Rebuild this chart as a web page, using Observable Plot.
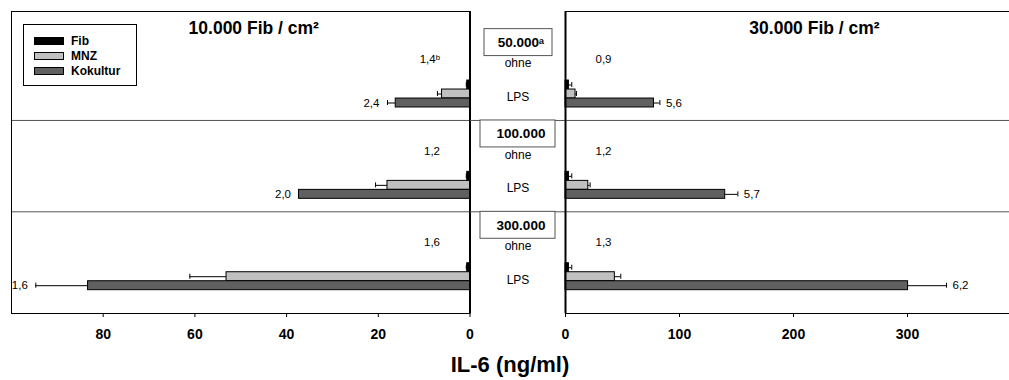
<!DOCTYPE html>
<html>
<head>
<meta charset="utf-8">
<script src="https://cdn.jsdelivr.net/npm/d3@7"></script>
<script src="https://cdn.jsdelivr.net/npm/@observablehq/plot@0.6"></script>
<style>
  body { margin: 0; background: #fff; }
  #c { position: relative; width: 1009px; height: 380px; overflow: hidden; background: #fff;
       font-family: 'Liberation Sans', Arial, Helvetica, sans-serif; }
  #c > svg { position: absolute; top: 0; }
  #legend { position: absolute; left: 23px; top: 24px; width: 112px; height: 60px; border: 1.5px solid #000; background: #fff; }
  .li { position: absolute; left: 10px; height: 14px; display: flex; align-items: center; font-weight: bold; font-size: 12px; }
  .sw { width: 28px; height: 6px; border: 1px solid #000; margin-right: 7px; }
  #xlabel { position: absolute; left: 380px; width: 260px; top: 351px; line-height: 28px; text-align: center;
            font-weight: bold; font-size: 22px; }
</style>
</head>
<body>
<div id="c"></div>
<script>
// ---------- data ----------
const groups = ["50.000", "100.000", "300.000"];          // MNZ / cm² (middle boxes)
const boxLabels = ["50.000ᵃ", "100.000", "300.000"];
const conditions = ["ohne", "LPS"];
const series = ["Fib", "MNZ", "Kokultur"];
const seriesColors = ["#000000", "#c0c0c0", "#606060"];
const panelTitles = ["10.000 Fib / cm²", "30.000 Fib / cm²"];
const xLabel = "IL-6 (ng/ml)";

// left panel: 10.000 Fib / cm²  (IL-6 ng/ml)
const left_ohne_Fib = [0, 0, 0];
const left_ohne_MNZ = [0, 0, 0];
const left_ohne_Kok = [0, 0, 0];
const left_LPS_Fib = [0.6, 0.6, 0.6];
const left_LPS_MNZ = [6.1, 18.0, 53.1];
const left_LPS_Kok = [16.2, 37.3, 83.3];
const left_err_Fib = [0.2, 0.2, 0.2];
const left_err_MNZ = [1.0, 2.6, 8.0];
const left_err_Kok = [1.8, 0, 11.4];
const left_fold_ohne = ["1,4ᵇ", "1,2", "1,6"];
const left_fold_LPS = ["2,4", "2,0", "1,6"];

// right panel: 30.000 Fib / cm²
const right_ohne_Fib = [0, 0, 0];
const right_ohne_MNZ = [0, 0, 0];
const right_ohne_Kok = [0, 0, 0];
const right_LPS_Fib = [3, 3, 3];
const right_LPS_MNZ = [8.8, 20.0, 43.3];
const right_LPS_Kok = [77.6, 140.1, 300.5];
const right_err_Fib = [2.5, 2.5, 2.5];
const right_err_MNZ = [0.8, 1.6, 5.2];
const right_err_Kok = [5.2, 11.1, 33.7];
const right_fold_ohne = ["0,9", "1,2", "1,3"];
const right_fold_LPS = ["5,6", "5,7", "6,2"];

const leftTicks = [0, 20, 40, 60, 80];
const rightTicks = [0, 100, 200, 300];

// ---------- build tables ----------
function buildRows(ohne, lps, errs) {
  const rows = [];
  groups.forEach((g, i) => {
    series.forEach((s, j) => {
      rows.push({group: g, cond: "ohne", series: s, value: ohne[j][i], err: 0});
      rows.push({group: g, cond: "LPS", series: s, value: lps[j][i], err: errs[j][i]});
    });
  });
  return rows;
}
const leftRows = buildRows([left_ohne_Fib, left_ohne_MNZ, left_ohne_Kok],
                           [left_LPS_Fib, left_LPS_MNZ, left_LPS_Kok],
                           [left_err_Fib, left_err_MNZ, left_err_Kok]);
const rightRows = buildRows([right_ohne_Fib, right_ohne_MNZ, right_ohne_Kok],
                            [right_LPS_Fib, right_LPS_MNZ, right_LPS_Kok],
                            [right_err_Fib, right_err_MNZ, right_err_Kok]);

const key = d => d.group + "|" + d.cond;
const yDomain = groups.flatMap(g => [g + "|box", ...conditions.map(c => g + "|" + c)]);
const yScale = {domain: yDomain, paddingInner: 0.115, paddingOuter: 0.5165, align: 0.2585, round: false, axis: null};
const H = 348, MT = 11, MB = 35;
const fontFamily = "'Liberation Sans', Arial, Helvetica, sans-serif";
const baseStyle = {background: "transparent", overflow: "visible", fontFamily, fontSize: "14px", fontWeight: "bold", color: "#000"};

const subInsets = {Fib: [0, 18], MNZ: [9, 9], Kokultur: [18, 0]};
const subOff = {Fib: -9, MNZ: 0, Kokultur: 9};

function panel({rows, foldOhne, foldLPS, domain, reverse, ticks, width, marginLeft, marginRight, title, titleDx, side}) {
  const sgn = side === "left" ? -1 : 1;
  const anchor = side === "left" ? "end" : "start";
  const lpsKok = rows.filter(r => r.cond === "LPS" && r.series === "Kokultur");
  const marks = [
    Plot.ruleY(groups.slice(1), {y: g => g + "|box", dy: -4, stroke: "#555", strokeWidth: 1}),
    Plot.frame({stroke: "#000", strokeWidth: 1})
  ];
  series.forEach((s, j) => {
    const sr = rows.filter(r => r.series === s);
    const er = sr.filter(r => r.err > 0);
    marks.push(Plot.barX(sr, {x: "value", y: key, fill: seriesColors[j], stroke: "#000", strokeWidth: 1,
      insetTop: subInsets[s][0], insetBottom: subInsets[s][1]}));
    marks.push(Plot.ruleY(er, {x1: "value", x2: r => r.value + r.err, y: key, dy: subOff[s], stroke: "#000", strokeWidth: 1}));
    marks.push(Plot.tickX(er, {x: r => r.value + r.err, y: key, stroke: "#000", strokeWidth: 1,
      insetTop: 10.97 + subOff[s], insetBottom: 10.98 - subOff[s]}));
  });
  marks.push(Plot.ruleX([0], {stroke: "#000", strokeWidth: 2}));
  marks.push(Plot.text(groups, {x: () => 0, y: g => g + "|ohne", text: (g, i) => foldOhne[i], dx: 30 * sgn, dy: -4,
    textAnchor: anchor, fontSize: 11.5, fontWeight: "normal"}));
  marks.push(Plot.text(lpsKok, {x: r => r.value + r.err, y: key, text: (r, i) => foldLPS[i], dx: side === "left" ? -8 : 6, dy: 9,
    textAnchor: anchor, fontSize: 11.5, fontWeight: "normal"}));
  marks.push(Plot.text([title], {frameAnchor: "top", text: d => d, dy: 17, dx: titleDx, lineAnchor: "middle", fontSize: 17.5, fontWeight: "bold"}));
  return Plot.plot({
    width, height: H, marginTop: MT, marginBottom: MB, marginLeft, marginRight,
    style: baseStyle,
    x: {domain, reverse, ticks, label: null, tickSize: 4, tickPadding: 12},
    y: yScale,
    marks
  });
}

const c = document.getElementById("c");

const left = panel({rows: leftRows, foldOhne: left_fold_ohne, foldLPS: left_fold_LPS, domain: [0, 100], reverse: true,
  ticks: leftTicks, width: 470, marginLeft: 11, marginRight: 0.5, title: panelTitles[0], titleDx: 13, side: "left"});
left.style.left = "0px";
c.appendChild(left);

const mid = Plot.plot({
  width: 95, height: H, marginTop: MT, marginBottom: MB, marginLeft: 0, marginRight: 0,
  style: baseStyle,
  y: yScale,
  marks: [
    Plot.ruleY(groups.slice(1), {y: g => g + "|box", dy: -4, stroke: "#555", strokeWidth: 1}),
    Plot.cell(groups.slice(0, 1), {y: g => g + "|box", dy: 9.5, fill: "white", stroke: "#555", strokeWidth: 1, insetLeft: 14, insetRight: 13}),
    Plot.cell(groups.slice(1), {y: g => g + "|box", dy: 9.5, fill: "white", stroke: "#555", strokeWidth: 1, insetLeft: 10, insetRight: 10}),
    Plot.text(groups, {y: g => g + "|box", text: (g, i) => boxLabels[i], dy: 9.5, dx: 3, fontSize: 13.5, fontWeight: "bold"}),
    Plot.text(groups, {y: g => g + "|ohne", text: () => conditions[0], fontSize: 12, fontWeight: "normal"}),
    Plot.text(groups, {y: g => g + "|LPS", text: () => conditions[1], dy: 3, fontSize: 12, fontWeight: "normal"})
  ]
});
mid.style.left = "470px";
c.appendChild(mid);

const right = panel({rows: rightRows, foldOhne: right_fold_ohne, foldLPS: right_fold_LPS, domain: [0, 400], reverse: false,
  ticks: rightTicks, width: 456, marginLeft: 0, marginRight: 0, title: panelTitles[1], titleDx: 21, side: "right"});
right.style.left = "565px";
c.appendChild(right);

// legend
const lg = document.createElement("div");
lg.id = "legend";
series.forEach((s, j) => {
  const it = document.createElement("div");
  it.className = "li";
  it.style.top = (9 + 15 * j) + "px";
  const sw = document.createElement("div");
  sw.className = "sw";
  sw.style.background = seriesColors[j];
  it.appendChild(sw);
  it.appendChild(document.createTextNode(s));
  lg.appendChild(it);
});
c.appendChild(lg);

const xl = document.createElement("div");
xl.id = "xlabel";
xl.textContent = xLabel;
c.appendChild(xl);
</script>
</body>
</html>
